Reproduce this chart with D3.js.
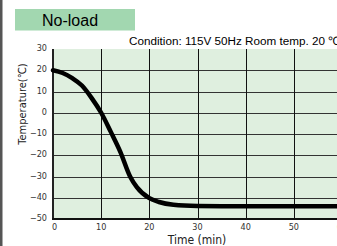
<!DOCTYPE html>
<html>
<head>
<meta charset="UTF-8">
<title>No-load</title>
<style>
    body { margin: 0; padding: 0; background: #fff; }
    svg { display: block; }
    .narrow { font-family: 'Liberation Sans Narrow', 'DejaVu Sans Condensed', 'Liberation Sans', sans-serif; font-stretch: condensed; }
</style>
</head>
<body>
<svg></svg>
<script src="https://d3js.org/d3.v7.min.js"></script>
<script>

// dimensions
let w = 337, h = 246;
let plotL = 53, plotR = 342, plotT = 49, plotB = 219;

// data
let title = "No-load";
let condition = "Condition: 115V 50Hz Room temp. 20 \u2103";
let xTicks = [0, 10, 20, 30, 40, 50, 60];
let yTicks = [30, 20, 10, 0, -10, -20, -30, -40, -50];
let timeMin = [0, 2, 4, 6, 8, 10, 12, 14, 16, 17.4, 20, 22, 25, 30, 35, 40, 50, 60];
let tempC = [20, 18.7, 16.3, 12.8, 7, 0, -9, -18.5, -30, -35, -40.2, -42, -43.3, -43.9, -44, -44, -44, -44];

let svg = d3.select("svg")
    .attr("width", w)
    .attr("height", h);

// scales
let x = d3.scaleLinear().domain([0, 60]).range([plotL, plotR]);
let y = d3.scaleLinear().domain([-50, 30]).range([plotB, plotT]);

// left gray edge
svg.append("rect")
    .attr("x", 0).attr("y", 0)
    .attr("width", 2.5).attr("height", h)
    .attr("fill", "#555");

// title box
svg.append("rect")
    .attr("x", 15).attr("y", 9)
    .attr("width", 120).attr("height", 21.5)
    .attr("fill", "#a2d7b0");
svg.append("text")
    .attr("x", 42).attr("y", 25.5)
    .attr("font-family", "Liberation Sans, Arial, sans-serif")
    .attr("font-size", 16)
    .attr("fill", "#000")
    .text(title);

// condition text
svg.append("text")
    .attr("x", 129).attr("y", 44.5)
    .attr("font-family", "Liberation Sans, Arial, sans-serif")
    .attr("font-size", 11.7)
    .attr("fill", "#000")
    .text(condition);

// plot background
svg.append("rect")
    .attr("x", plotL).attr("y", plotT)
    .attr("width", plotR - plotL).attr("height", plotB - plotT)
    .attr("fill", "#dfefdf");

// grid
svg.append("g")
    .selectAll("line")
    .data(yTicks.filter(d => d > -50 && d < 30))
    .enter()
    .append("line")
    .attr("x1", plotL).attr("x2", plotR)
    .attr("y1", d => Math.round(y(d)) + 0.5)
    .attr("y2", d => Math.round(y(d)) + 0.5)
    .attr("stroke", "#333")
    .attr("stroke-width", 1);

svg.append("g")
    .selectAll("line")
    .data(xTicks.filter(d => d > 0))
    .enter()
    .append("line")
    .attr("x1", d => Math.round(x(d)) + 0.5)
    .attr("x2", d => Math.round(x(d)) + 0.5)
    .attr("y1", plotT).attr("y2", plotB)
    .attr("stroke", "#111")
    .attr("stroke-width", 1);

// axis lines
svg.append("line")
    .attr("x1", plotL).attr("x2", plotL)
    .attr("y1", plotT).attr("y2", plotB + 1)
    .attr("stroke", "#222").attr("stroke-width", 2);
svg.append("line")
    .attr("x1", plotL - 1).attr("x2", plotR)
    .attr("y1", plotB).attr("y2", plotB)
    .attr("stroke", "#111").attr("stroke-width", 2);

// tick labels
svg.append("g")
    .attr("class", "narrow")
    .selectAll("text")
    .data(yTicks)
    .enter()
    .append("text")
    .attr("x", 47)
    .attr("y", d => y(d) + 2)
    .attr("text-anchor", "end")
    .attr("font-size", 9)
    .attr("fill", "#333")
    .text(d => d < 0 ? "\u2212" + Math.abs(d) : d);

svg.append("g")
    .attr("class", "narrow")
    .selectAll("text")
    .data(xTicks)
    .enter()
    .append("text")
    .attr("x", d => x(d))
    .attr("y", 230)
    .attr("text-anchor", d => d === 0 ? "start" : "middle")
    .attr("dx", d => d === 0 ? -1 : 0)
    .attr("font-size", 9)
    .attr("fill", "#333")
    .text(d => d);

// axis titles
svg.append("text")
    .attr("class", "narrow")
    .attr("x", 197).attr("y", 244)
    .attr("text-anchor", "middle")
    .attr("font-size", 12)
    .attr("fill", "#222")
    .text("Time (min)");

svg.append("text")
    .attr("class", "narrow")
    .attr("transform", "translate(26,104) rotate(-90)")
    .attr("text-anchor", "middle")
    .attr("font-size", 11)
    .attr("fill", "#222")
    .text("Temperature(\u2103)");

// curve
let line = d3.line()
    .x((d, i) => x(timeMin[i]))
    .y(d => y(d))
    .curve(d3.curveMonotoneX);

svg.append("path")
    .datum(tempC)
    .attr("d", line)
    .attr("fill", "none")
    .attr("stroke", "#000")
    .attr("stroke-width", 4.5)
    .attr("stroke-linecap", "round");

</script>
</body>
</html>
